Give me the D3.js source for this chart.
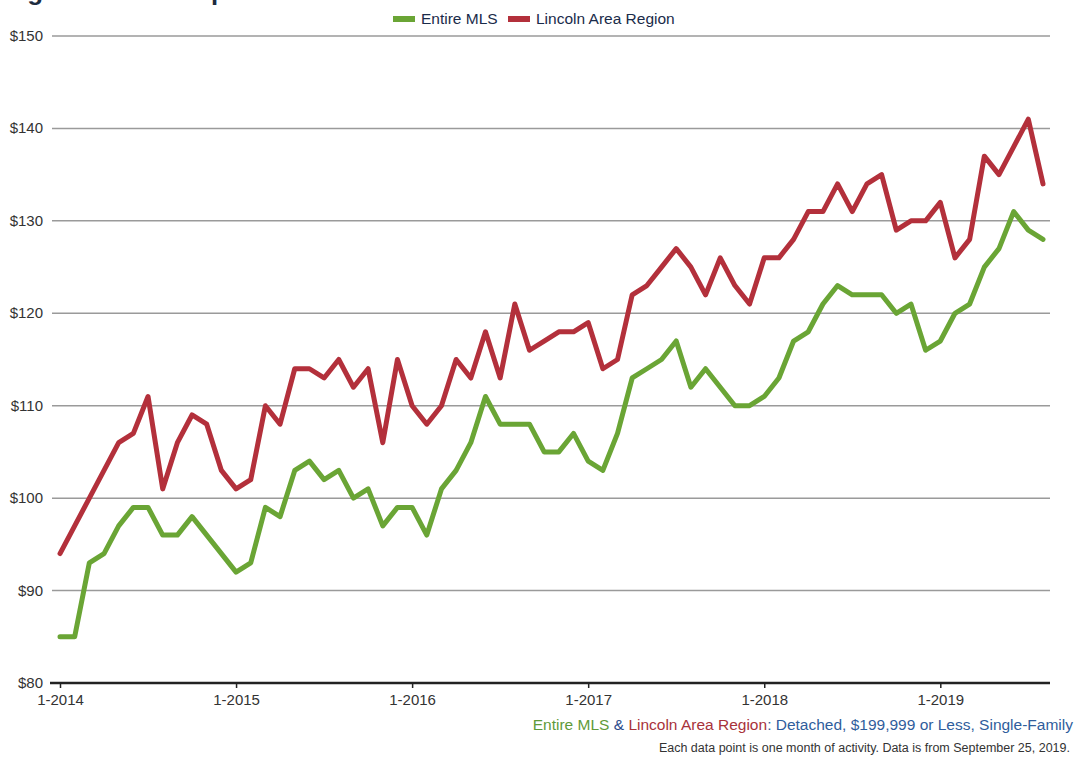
<!DOCTYPE html>
<html><head><meta charset="utf-8">
<script src="https://cdn.jsdelivr.net/npm/d3@7/dist/d3.min.js"></script>
<style>body{margin:0;background:#fff;}svg{display:block;font-family:"Liberation Sans",Arial,sans-serif;}</style>
</head><body><svg id="c" width="1075" height="757"></svg>
<script>
const seriesNames = ["Entire MLS", "Lincoln Area Region"];
const seriesColors = ["#6aa535", "#b3303b"];
const entireMLS = [85,85,93,94,97,99,99,96,96,98,96,94,
  92,93,99,98,103,104,102,103,100,101,97,99,
  99,96,101,103,106,111,108,108,108,105,105,107,
  104,103,107,113,114,115,117,112,114,112,110,110,
  111,113,117,118,121,123,122,122,122,120,121,116,
  117,120,121,125,127,131,129,128];
const lincoln = [94,97,100,103,106,107,111,101,106,109,108,103,
  101,102,110,108,114,114,113,115,112,114,106,115,
  110,108,110,115,113,118,113,121,116,117,118,118,
  119,114,115,122,123,125,127,125,122,126,123,121,
  126,126,128,131,131,134,131,134,135,129,130,130,
  132,126,128,137,135,138,141,134];
const yTicks = [80,90,100,110,120,130,140,150];
const xTickLabels = ["1-2014","1-2015","1-2016","1-2017","1-2018","1-2019"];

const svg = d3.select("#c");
const x = d3.scaleLinear().domain([0, 67]).range([60, 1043]);
const y = d3.scaleLinear().domain([80, 150]).range([683, 36]);

// cropped title (only its descenders are visible, as in the reference)
svg.append("text").attr("x", -44).attr("y", 0).attr("font-size", 26).attr("font-weight", "bold")
  .attr("fill", "#1d2b3f").text("Average Price Per Square Foot");

// gridlines
svg.append("g").selectAll("line").data(yTicks.filter(d => d > 80)).join("line")
  .attr("x1", 52).attr("x2", 1050).attr("y1", d => y(d)).attr("y2", d => y(d))
  .attr("stroke", "#9a9a9a").attr("stroke-width", 1.5);

// y labels
svg.append("g").selectAll("text").data(yTicks).join("text")
  .attr("x", 43).attr("y", d => y(d) + 5).attr("text-anchor", "end")
  .attr("font-size", 15).attr("fill", "#333").text(d => "$" + d);

// x axis
const xAxis = d3.axisBottom(x).tickValues(xTickLabels.map((d, i) => i * 12))
  .tickFormat((d, i) => xTickLabels[i]).tickSize(5).tickSizeOuter(0);
const gx = svg.append("g").attr("transform", "translate(0,683)").call(xAxis);
gx.select(".domain").attr("d", "M50,0H1050").attr("stroke", "#222").attr("stroke-width", 2.5);
gx.selectAll(".tick line").attr("stroke", "#222").attr("stroke-width", 1.5);
gx.selectAll(".tick text").attr("font-size", 15).attr("fill", "#333").attr("dy", "0.9em")
  .style("font-family", '"Liberation Sans",Arial,sans-serif');

// lines
const line = d3.line().x((d, i) => x(i)).y(d => y(d)).curve(d3.curveLinear);
[entireMLS, lincoln].forEach((s, k) => {
  svg.append("path").datum(s).attr("d", line).attr("fill", "none")
    .attr("stroke", seriesColors[k]).attr("stroke-width", 5)
    .attr("stroke-linejoin", "round").attr("stroke-linecap", "round");
});

// legend
const leg = svg.append("g");
const legX = [393, 508];
seriesNames.forEach((n, k) => {
  leg.append("rect").attr("x", legX[k]).attr("y", 16).attr("width", 22).attr("height", 6).attr("fill", seriesColors[k]);
  leg.append("text").attr("x", legX[k] + 28).attr("y", 24).attr("font-size", 15.5).attr("fill", "#1a2b4a").text(n);
});

// caption
const cap = svg.append("text").attr("x", 1073).attr("y", 730).attr("text-anchor", "end").attr("font-size", 15.5);
cap.append("tspan").attr("fill", "#5f9a3a").text("Entire MLS");
cap.append("tspan").attr("fill", "#2a4a8a").text(" & ");
cap.append("tspan").attr("fill", "#a8323a").text("Lincoln Area Region");
cap.append("tspan").attr("fill", "#2f5d9c").text(": Detached, $199,999 or Less, Single-Family");
svg.append("text").attr("x", 1070).attr("y", 752).attr("text-anchor", "end").attr("font-size", 12.5)
  .attr("fill", "#333").text("Each data point is one month of activity. Data is from September 25, 2019.");
</script></body></html>
